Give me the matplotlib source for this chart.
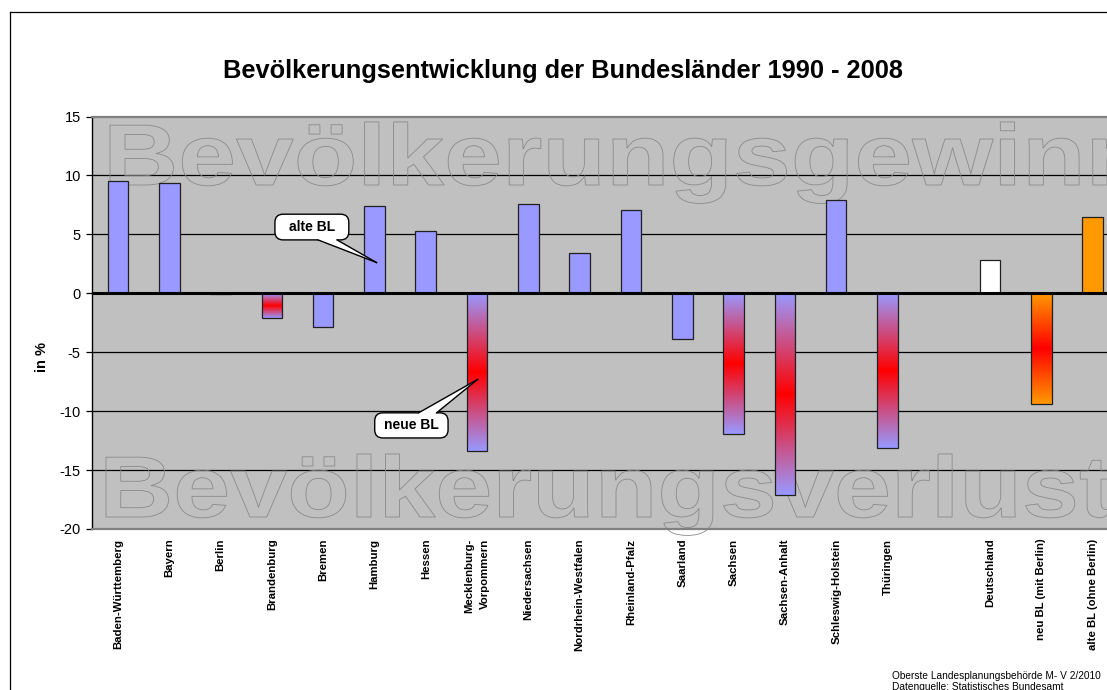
import numpy as np
import matplotlib
matplotlib.use('Agg')
import matplotlib.pyplot as plt
from matplotlib.colors import LinearSegmentedColormap
from matplotlib.patches import FancyBboxPatch, Polygon, PathPatch
from matplotlib.textpath import TextPath
from matplotlib.font_manager import FontProperties
from matplotlib.transforms import Affine2D
from matplotlib.lines import Line2D

plt.rcParams['font.family'] = ['Liberation Sans', 'DejaVu Sans']
plt.rcParams['axes.unicode_minus'] = False

# Daten (Veraenderung der Bevoelkerung 1990 - 2008 in %)
laender = ['Baden-Württemberg', 'Bayern', 'Berlin', 'Brandenburg', 'Bremen',
           'Hamburg', 'Hessen', 'Mecklenburg-\nVorpommern', 'Niedersachsen',
           'Nordrhein-Westfalen', 'Rheinland-Pfalz', 'Saarland', 'Sachsen',
           'Sachsen-Anhalt', 'Schleswig-Holstein', 'Thüringen', '',
           'Deutschland', 'neu BL (mit Berlin)', 'alte BL (ohne Berlin)']
veraenderung = [9.5, 9.4, -0.1, -2.1, -2.9, 7.4, 5.3, -13.4, 7.6, 3.4, 7.1,
                -3.9, -11.9, -17.1, 7.9, -13.1, np.nan, 2.8, -9.4, 6.5]
gruppe = ['alt', 'alt', 'neu', 'neu', 'alt', 'alt', 'alt', 'neu', 'alt', 'alt',
          'alt', 'alt', 'neu', 'neu', 'alt', 'neu', '', 'de', 'neu_ges', 'alt_ges']
y_ticks = [-20, -15, -10, -5, 0, 5, 10, 15]

W, H = 1107, 690
fig = plt.figure(figsize=(W / 100, H / 100), dpi=100)
ax = fig.add_axes([92.3 / W, (H - 529) / H, 1026 / W, 412.5 / H])
ax.set_facecolor('#C0C0C0')

x = np.arange(len(laender))
breite = 0.4
fuell = {'alt': '#9999FF', 'de': 'white', 'alt_ges': '#FF9900'}
verlauf = {'neu': ['#9999FF', '#FF0000', '#9999FF'],
           'neu_ges': ['#FF9900', '#FF0000', '#FF9900']}

for xi, v, g in zip(x, veraenderung, gruppe):
    if not g:
        continue
    if g in verlauf:
        cmap = LinearSegmentedColormap.from_list(g, verlauf[g])
        ax.imshow(np.linspace(0, 1, 200).reshape(-1, 1), cmap=cmap,
                  extent=(xi - breite / 2, xi + breite / 2, v, 0),
                  aspect='auto', interpolation='bilinear', zorder=3)
        fc = 'none'
    else:
        fc = fuell[g]
    ax.bar(xi, v, breite, color=fc, edgecolor='#202020', linewidth=0.9, zorder=4)

# Gitternetz und Nulllinie
for t in y_ticks[1:-1]:
    ax.axhline(t, color='black', lw=0.9, zorder=1)
ax.axhline(0, color='black', lw=2.2, zorder=5)

# Wasserzeichen-Schrift (nur Umriss)
fp = FontProperties(family='Liberation Sans', weight='bold')


def wasserzeichen(text, x_px, baseline_px, sx):
    tp = TextPath((0, 0), text, size=100, prop=fp)
    x0 = tp.get_extents().x0
    trans = Affine2D().scale(sx, 0.87).translate(x_px - x0 * sx, H - baseline_px)
    patch = PathPatch(tp, transform=trans, fc='none', ec='#8a8a8a', lw=0.6, zorder=2)
    ax.add_artist(patch)
    patch.set_clip_on(False)


wasserzeichen('Bevölkerungsgewinn', 110, 185, 1.04)
wasserzeichen('Bevölkerungsverlust', 106, 517, 1.025)


# Sprechblasen
def sprechblase(text, mitte, bw, bh, basis, spitze, unten):
    box = FancyBboxPatch((mitte[0] - bw / 2, mitte[1] - bh / 2), bw, bh,
                         boxstyle='round,pad=0,rounding_size=0.16',
                         mutation_aspect=4.36, fc='white', ec='black', lw=1, zorder=6)
    ax.add_patch(box)
    kante = mitte[1] - bh / 2 if unten else mitte[1] + bh / 2
    d = 0.3 if unten else -0.3
    ax.add_patch(Polygon([(basis[0], kante + d), (basis[0], kante), spitze,
                          (basis[1], kante), (basis[1], kante + d)],
                         closed=True, fc='white', ec='none', zorder=7))
    for b in basis:
        ax.plot([b, spitze[0]], [kante, spitze[1]], color='black', lw=1, zorder=7)
    ax.text(mitte[0], mitte[1], text, ha='center', va='center', fontsize=10,
            fontweight='bold', zorder=8)


sprechblase('alte BL', (3.78, 5.62), 1.44, 2.18, (3.90, 4.27), (5.04, 2.61), True)
sprechblase('neue BL', (5.72, -11.21), 1.43, 2.13, (5.86, 6.21), (7.01, -7.31), False)

ax.set_xlim(-0.5, len(laender) - 0.5)
ax.set_ylim(y_ticks[0], y_ticks[-1])

ax.set_xticks(x)
ax.set_xticklabels(laender, rotation=90, fontsize=8.2, fontweight='bold',
                   va='top', ha='center', multialignment='right')
for lab in ax.get_xticklabels():
    lab.set_linespacing(1.75)
ax.tick_params(axis='x', length=0, pad=7)
ax.set_yticks(y_ticks)
ax.tick_params(axis='y', direction='out', length=4, width=0.9, labelsize=10.5, pad=4.3)

ax.spines['right'].set_visible(False)
ax.spines['left'].set_color('black')
ax.spines['left'].set_linewidth(1.0)
for s in ['top', 'bottom']:
    ax.spines[s].set_color('#808080')
    ax.spines[s].set_linewidth(1.6)

# Rahmen, Titel, Beschriftungen
fig.add_artist(Line2D([9.5 / W, 9.5 / W], [0, 1 - 11.5 / H], color='black', lw=0.9))
fig.add_artist(Line2D([9.5 / W, 1], [1 - 11.5 / H, 1 - 11.5 / H], color='black', lw=0.9))

fig.text(562.5 / W, 1 - 78.3 / H, 'Bevölkerungsentwicklung der Bundesländer 1990 - 2008',
         ha='center', va='baseline', fontsize=18.3, fontweight='bold')
fig.text(42 / W, 1 - 357 / H, 'in %', rotation=90, ha='center', va='center',
         fontsize=10.5, fontweight='bold')
fig.text(892 / W, 1 - 679 / H, 'Oberste Landesplanungsbehörde M- V 2/2010',
         fontsize=7.3, va='baseline')
fig.text(892 / W, 1 - 690 / H, 'Datenquelle: Statistisches Bundesamt',
         fontsize=7.3, va='baseline')

fig.savefig('out.png', dpi=100)
